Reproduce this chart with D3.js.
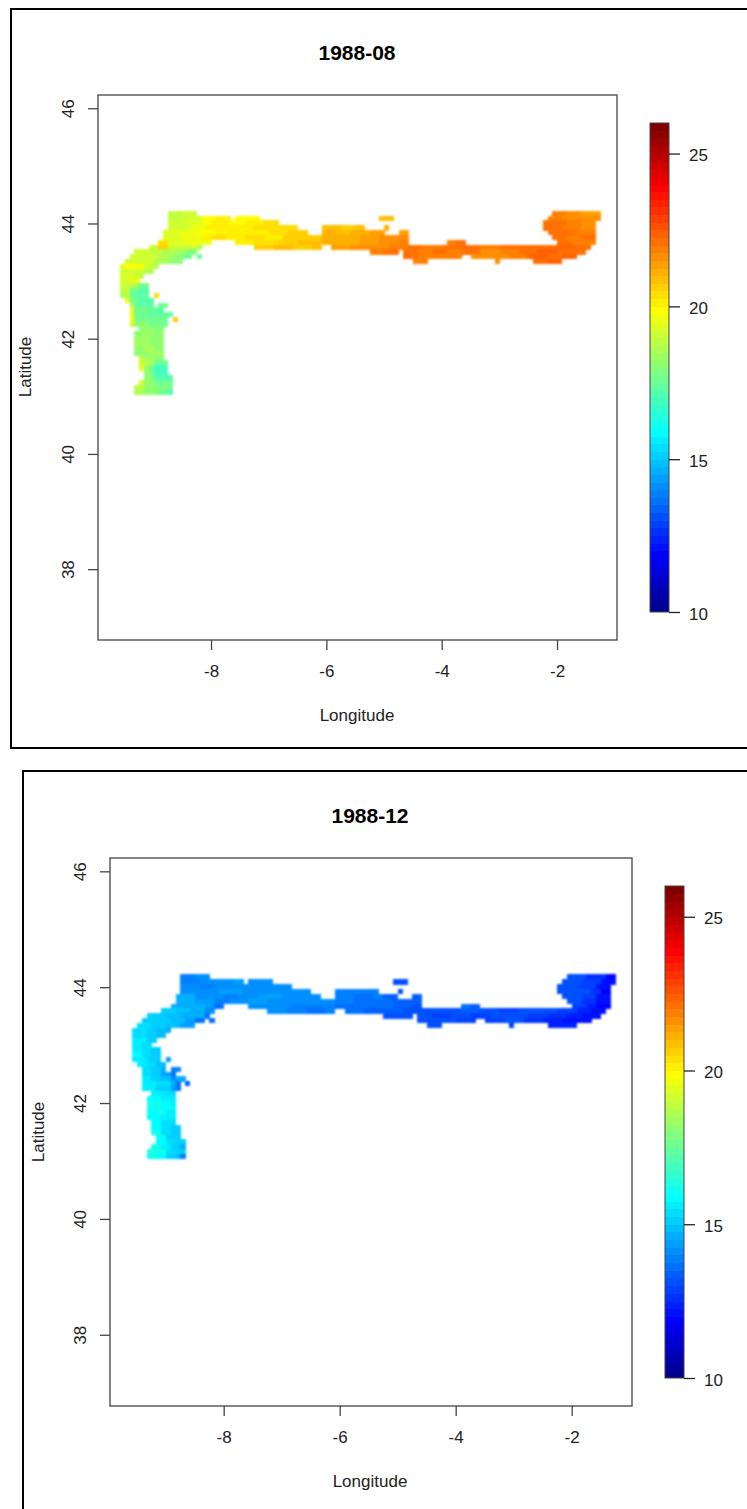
<!DOCTYPE html>
<html>
<head>
<meta charset="utf-8">
<script src="https://cdn.jsdelivr.net/npm/d3@7"></script>
<style>
  body { margin: 0; background: #fff; }
  svg { display: block; }
  text { font-family: "Liberation Sans", Arial, sans-serif; fill: #222; }
</style>
</head>
<body>
<div id="chart"></div>
<script>
// tim.colors(64), as used by the colour bars
const palette = ["#00008F","#00009F","#0000AF","#0000BF","#0000CF","#0000DF","#0000EF","#0000FF",
  "#0010FF","#0020FF","#0030FF","#0040FF","#0050FF","#0060FF","#0070FF","#0080FF",
  "#008FFF","#009FFF","#00AFFF","#00BFFF","#00CFFF","#00DFFF","#00EFFF","#00FFFF",
  "#10FFEF","#20FFDF","#30FFCF","#40FFBF","#50FFAF","#60FF9F","#70FF8F","#80FF80",
  "#8FFF70","#9FFF60","#AFFF50","#BFFF40","#CFFF30","#DFFF20","#EFFF10","#FFFF00",
  "#FFEF00","#FFDF00","#FFCF00","#FFBF00","#FFAF00","#FF9F00","#FF8F00","#FF8000",
  "#FF7000","#FF6000","#FF5000","#FF4000","#FF3000","#FF2000","#FF1000","#FF0000",
  "#EF0000","#DF0000","#CF0000","#BF0000","#AF0000","#9F0000","#8F0000","#800000"];

const lonTicks = [-8, -6, -4, -2];
const latTicks = [38, 40, 42, 44, 46];
const barTicks = [10, 15, 20, 25];

// grid of the raster, degrees
const gridLon = -9.58;
const gridLat = 44.22;
const lonStep = 1 / 12;
const latStep = 0.0838;

// sea cells per grid row, north to south: [firstCol, endCol] runs
const seaRuns = [
  [[10,16],[90,100]],
  [[10,23],[24,29],[54,57],[89,100]],
  [[10,33],[88,99]],
  [[10,37],[42,51],[55,56],[88,99]],
  [[9,39],[42,55],[58,60],[89,99]],
  [[9,60],[90,99]],
  [[8,19],[24,60],[68,72],[91,99]],
  [[6,17],[28,42],[44,98]],
  [[3,16],[52,58],[59,97]],
  [[2,15],[16,17],[59,71],[73,95]],
  [[1,13],[61,64],[78,79],[86,92]],
  [[0,8]],
  [[0,7]],
  [[0,5]],
  [[0,4]],
  [[0,6]],
  [[0,6]],
  [[0,6],[7,8]],
  [[1,7]],
  [[2,7],[8,10]],
  [[2,9]],
  [[2,11]],
  [[2,10],[11,12]],
  [[2,10]],
  [[4,9]],
  [[3,9]],
  [[3,9]],
  [[3,9]],
  [[3,9]],
  [[3,9]],
  [[4,9]],
  [[4,10]],
  [[4,10]],
  [[5,10]],
  [[5,11]],
  [[4,11]],
  [[3,11]],
  [[3,11]]
];

// temperature read per row: col, value, col, value... (value holds until the next col)
const augustTemps = [
  [10,18.8,13,19.0,90,21.8,93,21.6,96,21.4],
  [10,18.9,13,19.2,17,19.8,20,20.0,24,19.8,54,20.8,89,21.9,92,21.7,95,21.5,98,21.7],
  [10,19.1,14,19.4,17,19.9,19,20.0,23,19.9,26,20.1,30,20.3,88,22.0,91,22.1,93,21.8,96,21.5],
  [10,19.2,15,19.6,18,20.0,23,20.1,28,20.3,33,20.4,42,20.8,46,20.6,49,20.9,55,21.2,88,22.1,92,21.9,96,21.6],
  [9,19.3,12,19.5,16,19.8,20,20.0,23,20.2,27,20.0,31,20.3,35,20.5,42,21.0,45,20.8,48,21.1,52,21.3,58,21.4,89,22.2,92,22.0,95,21.8],
  [9,19.4,13,19.6,17,20.0,19,20.4,22,20.1,26,20.3,30,20.1,34,20.6,38,20.7,42,21.1,46,21.2,50,21.3,54,21.6,57,21.7,90,22.1,93,21.9,96,22.1],
  [8,20.4,10,19.4,14,19.5,17,19.7,24,20.2,28,20.4,33,20.6,37,20.8,42,21.2,46,21.0,50,21.4,54,21.7,58,21.9,68,21.9,70,22.2,91,22.1,94,21.9],
  [6,19.0,8,20.5,10,19.2,13,19.0,16,18.5,28,20.5,32,20.8,36,20.6,40,20.9,44,21.3,48,21.5,52,21.7,56,21.9,60,22.2,63,21.9,67,22.2,71,22.0,75,21.8,79,22.0,83,22.2,87,22.1,91,22.3,95,22.0],
  [3,19.0,6,18.9,9,18.6,12,18.4,14,17.9,52,21.9,55,22.1,59,22.2,62,21.8,65,22.0,68,21.8,71,22.1,75,21.7,79,21.9,83,22.1,87,22.4,91,22.2,94,22.0],
  [2,19.1,5,19.0,8,18.5,11,18.2,13,17.7,59,22.0,62,21.8,66,21.9,73,21.7,77,21.5,81,21.8,85,22.4,89,22.2,92,22.3],
  [1,19.2,4,19.0,7,18.6,10,18.2,61,21.8,78,21.7,86,22.2,89,22.4],
  [0,19.4,1,19.9,5,19.0,7,18.6],
  [0,19.2,3,19.0,5,18.7],
  [0,19.3,3,18.9],
  [0,19.1,2,19.5,4,18.8],
  [0,19.0,2,18.6,4,17.6],
  [0,18.8,2,17.6,4,17.2],
  [0,18.7,2,17.3,6,17.2,7,20.4],
  [1,19.6,2,17.5,4,17.1],
  [2,18.5,3,17.4,5,17.3,8,17.5],
  [2,19.3,3,17.6,6,17.3],
  [2,19.6,3,17.7,6,17.4],
  [2,19.8,3,17.6,7,17.5,11,20.5],
  [2,19.2,3,18.0,6,17.7],
  [4,18.2,6,18.0],
  [3,18.0,5,18.3,7,18.0],
  [3,18.3,6,18.1],
  [3,18.4,6,18.2],
  [3,18.2,5,18.5,7,18.1],
  [3,18.0,6,18.3],
  [4,18.9,5,18.4,7,18.0],
  [4,19.2,5,18.5,7,17.6],
  [4,19.3,5,18.3,6,17.6,7,16.9],
  [5,18.2,6,17.6,7,16.8],
  [5,18.1,7,17.0],
  [4,19.0,5,18.1,7,17.6],
  [3,18.9,5,18.2,8,17.8],
  [3,18.6,5,18.0,8,17.7,10,17.2]
];

const decemberTemps = [
  [10,13.9,13,14.0,90,13.0,94,12.6,98,11.9],
  [10,13.9,14,14.1,17,14.2,21,14.3,24,14.2,54,13.0,89,13.2,93,12.8,97,12.0],
  [10,14.0,14,13.9,17,14.2,22,14.1,26,14.2,30,14.0,88,13.1,92,12.9,96,12.2],
  [10,14.2,13,14.0,18,14.3,23,14.2,28,14.1,33,14.0,42,13.8,47,13.9,55,13.2,88,13.2,92,13.0,95,12.5,97,11.9],
  [9,14.5,13,14.2,17,14.0,19,13.8,22,14.2,26,14.4,31,14.1,35,14.0,42,13.9,46,13.7,50,13.8,52,13.4,58,13.3,89,13.1,93,12.8,96,12.1],
  [9,14.6,13,14.4,17,13.9,20,14.2,24,14.3,28,14.1,33,14.2,38,14.0,42,13.8,46,13.6,50,13.7,54,13.3,90,13.0,93,12.7,96,12.0],
  [8,14.7,11,14.5,15,14.3,17,13.6,24,14.2,28,14.0,33,13.9,37,13.8,42,13.7,46,13.5,50,13.6,54,13.3,58,13.2,68,13.7,70,13.3,91,12.8,94,12.4,96,11.9],
  [6,15.0,9,14.8,12,14.6,15,14.2,28,14.0,32,13.9,36,13.7,40,13.8,44,13.6,48,13.4,52,13.3,56,13.2,60,13.0,64,13.2,68,13.3,72,13.0,76,12.9,80,13.1,84,13.0,88,12.8,92,12.4,95,12.0],
  [3,15.1,7,14.9,10,14.7,13,14.5,15,13.6,52,13.0,55,13.1,59,13.1,62,12.9,66,13.1,70,12.9,74,13.1,78,13.0,82,12.9,86,12.6,90,12.3,93,12.0],
  [2,15.2,5,15.0,8,14.8,11,14.4,13,13.7,59,13.0,63,13.1,67,12.9,73,12.9,77,13.0,81,12.7,85,12.4,89,12.2],
  [1,15.3,4,15.1,7,14.8,10,14.4,61,13.0,78,12.8,86,12.3,89,12.4],
  [0,15.3,3,15.1,5,14.9,7,14.7],
  [0,15.4,3,15.2,5,14.9],
  [0,15.5,3,15.1],
  [0,15.6,2,15.3],
  [0,15.7,2,15.4,4,15.1],
  [0,15.8,2,15.3,4,15.0],
  [0,15.6,3,15.2,6,14.7,7,14.3],
  [1,15.7,3,15.3,5,14.9],
  [2,15.4,4,15.0,6,14.6,8,13.9],
  [2,15.3,4,15.1,6,14.3,8,13.5],
  [2,15.5,4,15.2,6,14.8,8,14.2,9,14.7],
  [2,15.6,5,15.3,8,14.5,9,13.7,11,13.3],
  [2,15.5,5,15.2,8,14.3,9,13.6],
  [4,15.6,7,15.3],
  [3,15.9,6,15.7],
  [3,16.0,6,15.8,8,15.5],
  [3,16.0,6,15.9],
  [3,15.9,5,16.0,7,15.7],
  [3,15.9,6,15.6],
  [4,15.8,6,15.4],
  [4,15.9,6,15.3,8,15.1],
  [4,16.0,6,15.4,8,15.0],
  [5,15.8,7,15.2],
  [5,15.9,7,15.3,9,15.0],
  [4,16.2,6,15.6,8,15.0,10,14.7],
  [3,16.3,5,16.0,7,15.4,9,15.0],
  [3,16.2,5,15.8,7,15.2,9,14.8,10,13.9]
];

const width = 747, height = 1509;

const svg = d3.select("#chart").append("svg")
  .attr("width", width)
  .attr("height", height);

// the reference raster was resampled, so its cell edges are a little soft
svg.append("defs").append("filter")
  .attr("id", "soft")
  .attr("x", "-5%").attr("y", "-5%")
  .attr("width", "110%").attr("height", "110%")
  .attr("color-interpolation-filters", "sRGB")
  .append("feGaussianBlur")
  .attr("stdDeviation", 0.8);

const color = d3.scaleQuantize().domain([10, 26]).range(palette);

// expand the runs and stops into one record per grid cell
function buildCells(temps) {
  const cells = [];
  seaRuns.forEach((runs, row) => {
    const stops = d3.range(0, temps[row].length, 2);
    const cols = stops.map(i => temps[row][i]);
    runs.forEach(run => {
      d3.range(run[0], run[1]).forEach(col => {
        const k = Math.max(0, d3.bisectRight(cols, col) - 1);
        cells.push({ col, row, temp: temps[row][stops[k] + 1] });
      });
    });
  });
  return cells;
}

// one framed panel
function drawPanel(p) {
  const g = svg.append("g");

  g.append("path")
    .attr("d", p.frame)
    .attr("fill", "none")
    .attr("stroke", "#000")
    .attr("stroke-width", 2);

  const x = d3.scaleLinear().domain([-9.96, -0.96]).range(p.xRange);
  const y = d3.scaleLinear().domain([36.77, 46.23]).range(p.yRange);

  g.append("g")
    .attr("filter", "url(#soft)")
    .selectAll("rect")
    .data(buildCells(p.temps))
    .enter()
    .append("rect")
    .attr("x", d => x(gridLon + d.col * lonStep))
    .attr("y", d => y(gridLat - d.row * latStep))
    .attr("width", x(lonStep) - x(0) + 0.4)
    .attr("height", y(0) - y(latStep) + 0.4)
    .attr("shape-rendering", "crispEdges")
    .style("fill", d => color(d.temp));

  g.append("rect")
    .attr("x", p.xRange[0])
    .attr("y", p.yRange[1])
    .attr("width", p.xRange[1] - p.xRange[0])
    .attr("height", p.yRange[0] - p.yRange[1])
    .attr("fill", "none")
    .attr("stroke", "#444")
    .attr("stroke-width", 1.3);

  const xAxis = g.append("g")
    .attr("transform", `translate(0,${p.yRange[0]})`)
    .call(d3.axisBottom(x).tickValues(lonTicks).tickSize(10).tickPadding(15).tickFormat(d => d));
  const yAxis = g.append("g")
    .attr("transform", `translate(${p.xRange[0]},0)`)
    .call(d3.axisLeft(y).tickValues(latTicks).tickSize(10).tickFormat(d => d));

  [xAxis, yAxis].forEach(a => {
    a.select(".domain").remove();
    a.selectAll("line").attr("stroke", "#444").attr("stroke-width", 1.3);
    a.selectAll("text").style("font-size", "17px").attr("font-family", null);
  });

  // R style rotated latitude labels, each tick group already sits at its y
  yAxis.selectAll("text")
    .attr("transform", "rotate(-90,-30,0)")
    .attr("x", -30)
    .attr("y", 0)
    .attr("dy", "0.35em")
    .attr("text-anchor", "middle");

  g.append("text")
    .attr("x", p.titleX).attr("y", p.titleY)
    .attr("text-anchor", "middle")
    .style("font-size", "21px")
    .style("font-weight", "bold")
    .style("fill", "#000")
    .text(p.title);

  g.append("text")
    .attr("x", p.titleX).attr("y", p.lonLabelY)
    .attr("text-anchor", "middle")
    .style("font-size", "17px")
    .text("Longitude");

  g.append("text")
    .attr("transform", `translate(${p.latLabelX},${p.latLabelY}) rotate(-90)`)
    .attr("text-anchor", "middle")
    .style("font-size", "17px")
    .text("Latitude");

  // colour bar
  const barY = d3.scaleLinear().domain([10, 26]).range(p.barY);
  const bar = g.append("g");
  bar.selectAll("rect")
    .data(palette)
    .enter()
    .append("rect")
    .attr("x", p.barX[0])
    .attr("width", p.barX[1] - p.barX[0])
    .attr("y", (d, i) => barY(10 + (i + 1) / 4))
    .attr("height", barY(10) - barY(10.25) + 0.4)
    .attr("shape-rendering", "crispEdges")
    .style("fill", d => d);
  bar.append("rect")
    .attr("x", p.barX[0])
    .attr("y", p.barY[1])
    .attr("width", p.barX[1] - p.barX[0])
    .attr("height", p.barY[0] - p.barY[1])
    .attr("fill", "none")
    .attr("stroke", "#444");

  const barAxis = g.append("g")
    .attr("transform", `translate(${p.barX[1]},0)`)
    .call(d3.axisRight(barY).tickValues(barTicks).tickSize(11).tickPadding(9).tickFormat(d => d));
  barAxis.select(".domain").remove();
  barAxis.selectAll("line").attr("stroke", "#222").attr("stroke-width", 1.3);
  barAxis.selectAll("text")
    .style("font-size", "17px")
    .attr("font-family", null)
    .attr("dy", "0.42em");
}

drawPanel({
  title: "1988-08", temps: augustTemps,
  frame: "M747,9H11V748H747",
  xRange: [98, 617], yRange: [640, 95],
  barX: [650, 669], barY: [612, 123],
  titleX: 357, titleY: 60, lonLabelY: 721, latLabelX: 31, latLabelY: 367
});

drawPanel({
  title: "1988-12", temps: decemberTemps,
  frame: "M747,771H23V1509",
  xRange: [110, 632], yRange: [1406, 858],
  barX: [665, 684], barY: [1378, 886],
  titleX: 370, titleY: 823, lonLabelY: 1487, latLabelX: 44, latLabelY: 1132
});
</script>
</body>
</html>
